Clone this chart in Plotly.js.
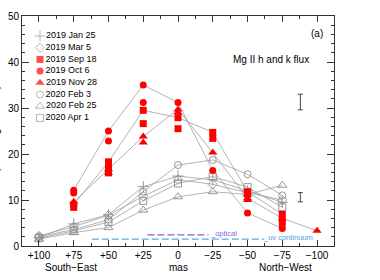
<!DOCTYPE html>
<html>
<head>
<meta charset="utf-8">
<script src="https://cdn.plot.ly/plotly-3.0.1.min.js"></script>
<style>html,body{margin:0;padding:0;background:#fff}#chart{width:380px;height:280px}</style>
</head>
<body>
<div id="chart"></div>
<script>
// positions in mas
const positions = [100, 75, 50, 25, 0, -25, -50, -75];
const tickVals = [100, 75, 50, 25, 0, -25, -50, -75, -100];
const tickText = ['+100', '+75', '+50', '+25', '0', '\u221225', '\u221250', '\u221275', '\u2212100'];

// gray series (open symbols)
const jan25 = [1.8, 4.8, 6.8, 12.9, 15.2, 14.4, 12.0, 9.5];
const mar5  = [2.2, 4.2, 6.7, 10.8, 14.4, 13.4, 11.6, 10.0];
const feb3  = [2.0, 3.6, 5.7, 11.8, 17.6, 18.7, 15.6, 11.0];
const feb25 = [1.5, 2.9, 4.0, 7.8, 10.7, 11.8, 11.2, 13.2];
const apr1  = [1.7, 3.3, 5.2, 9.8, 13.6, 15.1, 12.8, 8.4];

// red series (main values, connected)
const sep18X = [75, 50, 25, 0, -25, -50, -75];
const sep18  = [9.0, 18.3, 29.5, 27.9, 24.7, 11.8, 6.9];
const oct6X  = [75, 50, 25, 0, -25, -50, -75];
const oct6   = [12.1, 25.0, 35.0, 31.2, 16.4, 7.2, 3.8];
const nov28X = [75, 50, 25, 0, -25, -50, -75, -100];
const nov28  = [9.6, 16.7, 23.8, 29.7, 20.3, 10.4, 6.0, 3.3];

// red series extra measurements (not connected)
const sep18xX = [75, 50, 50, 25, 0, -25, -50, -75];
const sep18x  = [8.4, 17.2, 15.9, 26.6, 25.5, 23.4, 11.3, 5.6];
const oct6xX  = [75, 50, 25, -75];
const oct6x   = [11.5, 22.8, 31.2, 4.6];
const nov28xX = [50, 25, 0, -50];
const nov28x  = [15.9, 22.5, 29.0, 10.0];

// reference extents
const opticalX = [22, -22], opticalY = [2.4, 2.4];
const uvX = [62, -62], uvY = [1.5, 1.5];

// representative error bars
const errX = [-88, -88], errY = [31.3, 10.6], errV = [1.7, 1.0];

const legendNames = ['2019 Jan 25', '2019 Mar 5', '2019 Sep 18', '2019 Oct 6', '2019 Nov 28', '2020 Feb 3', '2020 Feb 25', '2020 Apr 1'];

const RED = '#ff0000', GRAY = '#8c8c8c', LINE = '#a0a0a0';
const traces = [];
function lineTrace(x, y) {
  traces.push({x: x, y: y, mode: 'lines', line: {color: LINE, width: 0.8}, showlegend: false, hoverinfo: 'skip'});
}
lineTrace(positions, jan25); lineTrace(positions, mar5); lineTrace(positions, feb3);
lineTrace(positions, feb25); lineTrace(positions, apr1);
lineTrace(sep18X, sep18); lineTrace(oct6X, oct6); lineTrace(nov28X, nov28);

function grayMarks(y, sym, size) {
  traces.push({x: positions, y: y, mode: 'markers', showlegend: false,
    marker: {symbol: sym, size: size, color: GRAY, line: {color: GRAY, width: 0.9}}});
}
grayMarks(jan25, 'cross-thin-open', 8);
grayMarks(mar5, 'diamond-open', 7);
grayMarks(feb3, 'circle-open', 7);
grayMarks(feb25, 'triangle-up-open', 8);
grayMarks(apr1, 'square-open', 7);

function redMarks(x, y, sym, size) {
  traces.push({x: x, y: y, mode: 'markers', showlegend: false,
    marker: {symbol: sym, size: size, color: RED, line: {width: 0}}});
}
redMarks(sep18X.concat(sep18xX), sep18.concat(sep18x), 'square', 7);
redMarks(oct6X.concat(oct6xX), oct6.concat(oct6x), 'circle', 7);
redMarks(nov28X.concat(nov28xX), nov28.concat(nov28x), 'triangle-up', 8);

traces.push({x: opticalX, y: opticalY, mode: 'lines', line: {color: '#8a5cf0', width: 1.2, dash: '7px,3px'}, showlegend: false});
traces.push({x: uvX, y: uvY, mode: 'lines', line: {color: '#5aaae8', width: 1.2, dash: '7px,3px'}, showlegend: false});

traces.push({x: errX, y: errY, mode: 'markers', marker: {size: 1, color: 'rgba(0,0,0,0)'}, showlegend: false,
  error_y: {type: 'data', array: errV, visible: true, width: 2.5, thickness: 1, color: '#444'}});

// manual legend on a pixel-like overlay axis
const legX = legendNames.map(() => 40);
const legY = [36, 47.7, 59.4, 71.1, 82.8, 94.5, 106.2, 117.9];
traces.push({x: legX, y: legY, xaxis: 'x2', yaxis: 'y2', mode: 'markers+text', showlegend: false,
  text: legendNames, textposition: 'middle right', textfont: {size: 9, color: '#000', family: 'Liberation Sans, Arial, sans-serif'},
  marker: {symbol: ['cross-thin-open', 'diamond-open', 'square', 'circle', 'triangle-up', 'circle-open', 'triangle-up-open', 'square-open'],
    size: [8, 7, 7, 7, 8, 7, 8, 7],
    color: [GRAY, GRAY, RED, RED, RED, GRAY, GRAY, GRAY],
    line: {color: [GRAY, GRAY, RED, RED, RED, GRAY, GRAY, GRAY], width: [0.9, 0.9, 0, 0, 0, 0.9, 0.9, 0.9]}}});

const L = 22, R = 334, T = 16, B = 246;
function px(x) { return (x - L) / (R - L); }
function py(y) { return (B - y) / (B - T); }
const F = 'Liberation Sans, Arial, sans-serif';

const layout = {
  width: 380, height: 280,
  margin: {l: L, r: 380 - R, t: T, b: 280 - B, pad: 0},
  paper_bgcolor: '#fff', plot_bgcolor: '#fff',
  showlegend: false,
  font: {family: F, size: 10, color: '#000'},
  xaxis: {range: [112.2, -112.2], tickvals: tickVals, ticktext: tickText, ticks: 'inside', ticklen: 6, tickwidth: 1, tickcolor: '#333',
    showline: true, linecolor: '#333', linewidth: 1, mirror: 'ticks', showgrid: false, zeroline: false,
    tickfont: {size: 10, family: F}, minor: {dtick: 12.5, tick0: 0, ticks: 'inside', ticklen: 3, tickcolor: '#333', showgrid: false}},
  yaxis: {range: [0, 50], dtick: 10, ticks: 'inside', ticklen: 7, tickwidth: 1, tickcolor: '#333',
    showline: true, linecolor: '#333', linewidth: 1, mirror: 'ticks', showgrid: false, zeroline: false,
    tickfont: {size: 10, family: F}, minor: {dtick: 2, ticks: 'inside', ticklen: 3, tickcolor: '#333', showgrid: false}},
  xaxis2: {overlaying: 'x', range: [L, R], visible: false, fixedrange: true},
  yaxis2: {overlaying: 'y', range: [B, T], visible: false, fixedrange: true},
  annotations: [
    {xref: 'paper', yref: 'paper', x: px(71), y: py(267), text: 'South\u2212East', showarrow: false, font: {size: 10}, xanchor: 'center', yanchor: 'middle'},
    {xref: 'paper', yref: 'paper', x: px(178), y: py(267), text: 'mas', showarrow: false, font: {size: 10}, xanchor: 'center', yanchor: 'middle'},
    {xref: 'paper', yref: 'paper', x: px(285), y: py(267), text: 'North\u2212West', showarrow: false, font: {size: 10}, xanchor: 'center', yanchor: 'middle'},
    {xref: 'paper', yref: 'paper', x: px(317), y: py(33), text: '(a)', showarrow: false, font: {size: 10}, xanchor: 'center', yanchor: 'middle'},
    {xref: 'paper', yref: 'paper', x: px(271), y: py(59), text: 'Mg II h and k flux', showarrow: false, font: {size: 10}, xanchor: 'center', yanchor: 'middle'},
    {xref: 'paper', yref: 'paper', x: px(208), y: py(233), text: '_optical', showarrow: false, font: {size: 7.5, color: '#8a5cf0'}, xanchor: 'left', yanchor: 'middle'},
    {xref: 'paper', yref: 'paper', x: px(261), y: py(237), text: '_uv continuum', showarrow: false, font: {size: 7.5, color: '#4aa0e6'}, xanchor: 'left', yanchor: 'middle'},
    {xref: 'paper', yref: 'paper', x: px(-5), y: py(140), text: 'Flux (10<sup>\u221213</sup> erg cm<sup>\u22122</sup> s<sup>\u22121</sup>)', textangle: -90, showarrow: false, font: {size: 10}, xanchor: 'center', yanchor: 'middle'}
  ]
};

Plotly.newPlot('chart', traces, layout, {displayModeBar: false, staticPlot: true});
</script>
</body>
</html>
